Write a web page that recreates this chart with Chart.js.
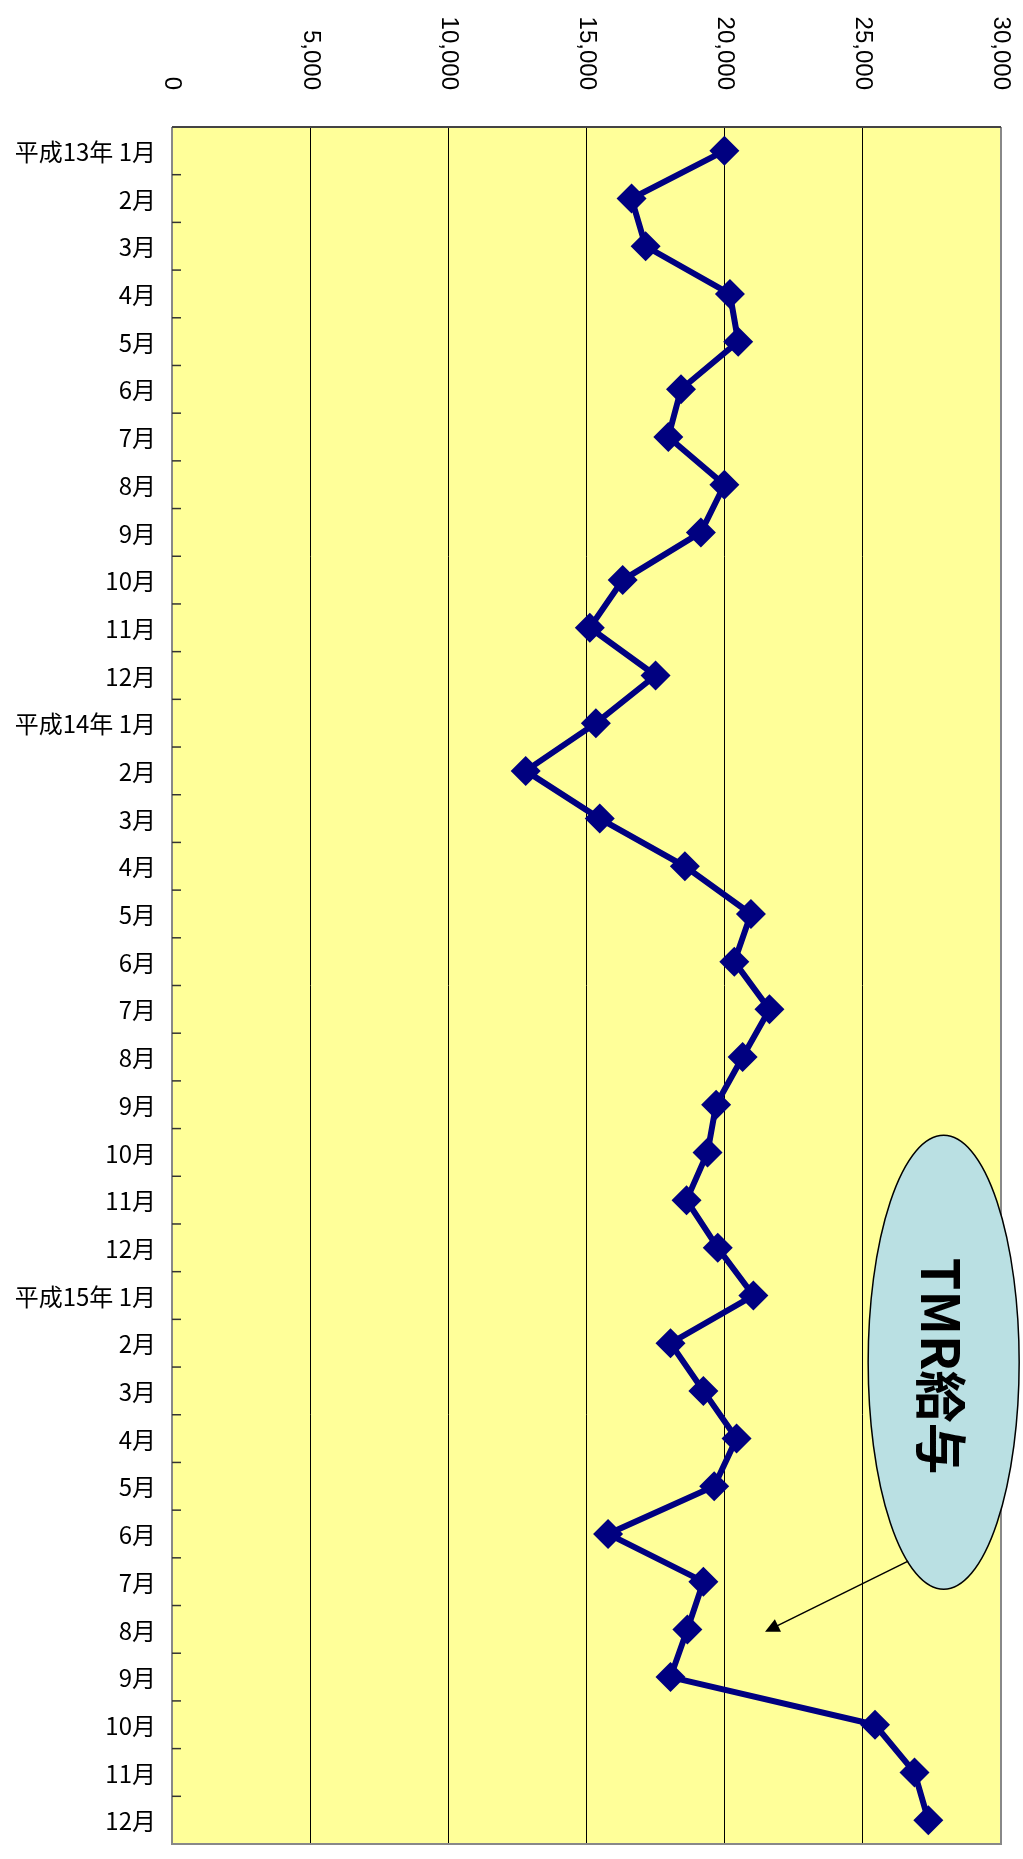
<!DOCTYPE html>
<html>
<head>
<meta charset="utf-8">
<script src="https://cdn.jsdelivr.net/npm/chart.js@4"></script>
<style>
  body { margin: 0; background: #fff; }
  #wrap { width: 1023px; height: 1859px; position: relative; }
</style>
</head>
<body>
<div id="wrap"><canvas id="tmrChart"></canvas></div>
<script>
// categories (months, 平成13年1月 - 平成15年12月)
const months = [
  '平成13年 1月', '2月', '3月', '4月', '5月', '6月', '7月', '8月', '9月', '10月', '11月', '12月',
  '平成14年 1月', '2月', '3月', '4月', '5月', '6月', '7月', '8月', '9月', '10月', '11月', '12月',
  '平成15年 1月', '2月', '3月', '4月', '5月', '6月', '7月', '8月', '9月', '10月', '11月', '12月'
];

// TMR給与
const tmrValues = [
  19990, 16630, 17140, 20190, 20490, 18420, 17960, 19990, 19140, 16310, 15120, 17500,
  15340, 12800, 15480, 18560, 20950, 20350, 21620, 20650, 19690, 19380, 18620, 19750,
  21040, 18040, 19230, 20430, 19620, 15780, 19230, 18650, 18040, 25440, 26870, 27370
];

// value axis
const axisMin = 0;
const axisMax = 30000;
const axisStep = 5000;

// callout: label, ellipse centre and arrow in data units
const calloutText = 'TMR給与';
const calloutCenter = { x: 27925, y: 25.4 };
const arrowFrom = { x: 26640, y: 29.57 };
const arrowTo = { x: 21460, y: 31.05 };

const plotDecor = {
  id: 'plotDecor',
  beforeDraw(chart) {
    const { ctx, chartArea: a } = chart;
    ctx.save();
    ctx.fillStyle = '#FFFF99';
    ctx.fillRect(a.left, a.top, a.right - a.left, a.bottom - a.top);
    ctx.restore();
  },
  beforeDatasetsDraw(chart) {
    const { ctx, chartArea: a } = chart;
    const ys = chart.scales.y;
    ctx.save();
    // frame
    ctx.lineWidth = 2;
    ctx.strokeStyle = '#888';
    ctx.beginPath();
    ctx.moveTo(a.left, a.top);
    ctx.lineTo(a.left, a.bottom);
    ctx.lineTo(a.right, a.bottom);
    ctx.lineTo(a.right, a.top);
    ctx.stroke();
    ctx.strokeStyle = '#444';
    ctx.beginPath();
    ctx.moveTo(a.left, a.top);
    ctx.lineTo(a.right, a.top);
    ctx.stroke();
    // small inward ticks between months
    const band = ys.getPixelForTick(1) - ys.getPixelForTick(0);
    ctx.lineWidth = 1.5;
    ctx.strokeStyle = '#333';
    for (let i = 1; i < months.length; i++) {
      const y = ys.getPixelForTick(i) - band / 2;
      ctx.beginPath();
      ctx.moveTo(a.left, y);
      ctx.lineTo(a.left + 9, y);
      ctx.stroke();
    }
    ctx.restore();
  },
  afterDraw(chart) {
    const { ctx, chartArea: a } = chart;
    const xs = chart.scales.x;
    const ys = chart.scales.y;
    ctx.save();
    // rotated value labels above the plot
    ctx.fillStyle = '#000';
    ctx.font = '24px "Liberation Sans", Arial, sans-serif';
    ctx.textAlign = 'right';
    ctx.textBaseline = 'middle';
    xs.ticks.forEach((t, i) => {
      const x = xs.getPixelForTick(i);
      ctx.save();
      ctx.translate(x, 90);
      ctx.rotate(Math.PI / 2);
      ctx.fillText(t.value.toLocaleString('en-US'), 0, 0);
      ctx.restore();
    });

    // month labels left of the plot
    ctx.font = '24px "Noto Sans CJK JP", sans-serif';
    ctx.textAlign = 'right';
    ctx.textBaseline = 'middle';
    months.forEach((m, i) => {
      ctx.fillText(m, a.left - 16, ys.getPixelForTick(i) + 1);
    });

    // callout ellipse
    const cx = xs.getPixelForValue(calloutCenter.x);
    const cy = ys.getPixelForValue(calloutCenter.y);
    ctx.beginPath();
    ctx.ellipse(cx, cy, 75.5, 227, 0, 0, Math.PI * 2);
    ctx.fillStyle = '#BAE0E3';
    ctx.fill();
    ctx.lineWidth = 1.5;
    ctx.strokeStyle = '#000';
    ctx.stroke();

    ctx.save();
    ctx.translate(cx - 3, cy + 4);
    ctx.rotate(Math.PI / 2);
    ctx.font = 'bold 52px "Noto Sans CJK JP", sans-serif';
    const w = ctx.measureText(calloutText).width;
    ctx.scale(217 / w, 1);
    ctx.fillStyle = '#000';
    ctx.textAlign = 'center';
    ctx.textBaseline = 'middle';
    ctx.fillText(calloutText, 0, 0);
    ctx.restore();

    // arrow
    const x1 = xs.getPixelForValue(arrowFrom.x), y1 = ys.getPixelForValue(arrowFrom.y);
    const x2 = xs.getPixelForValue(arrowTo.x), y2 = ys.getPixelForValue(arrowTo.y);
    const ang = Math.atan2(y2 - y1, x2 - x1);
    ctx.lineWidth = 1.5;
    ctx.beginPath();
    ctx.moveTo(x1, y1);
    ctx.lineTo(x2 - 10 * Math.cos(ang), y2 - 10 * Math.sin(ang));
    ctx.stroke();
    ctx.beginPath();
    ctx.moveTo(x2, y2);
    ctx.lineTo(x2 - 16 * Math.cos(ang - 0.45), y2 - 16 * Math.sin(ang - 0.45));
    ctx.lineTo(x2 - 16 * Math.cos(ang + 0.45), y2 - 16 * Math.sin(ang + 0.45));
    ctx.closePath();
    ctx.fillStyle = '#000';
    ctx.fill();
    ctx.restore();
  }
};

const ctx = document.getElementById('tmrChart').getContext('2d');
new Chart(ctx, {
  type: 'line',
  data: {
    labels: months,
    datasets: [{
      label: 'TMR給与',
      data: tmrValues,
      borderColor: '#000080',
      borderWidth: 6,
      pointStyle: 'rectRot',
      pointRadius: 15,
      pointBackgroundColor: '#000080',
      pointBorderWidth: 0,
      tension: 0
    }]
  },
  options: {
    indexAxis: 'y',
    responsive: true,
    maintainAspectRatio: false,
    animation: false,
    layout: { padding: { top: 0, left: 0, right: 22, bottom: 2 } },
    plugins: { legend: { display: false }, tooltip: { enabled: false } },
    scales: {
      x: {
        position: 'top',
        min: axisMin,
        max: axisMax,
        ticks: { stepSize: axisStep, display: false },
        grid: { color: '#000', lineWidth: 1, drawTicks: false },
        border: { display: false },
        afterFit: s => { s.height = 127; }
      },
      y: {
        offset: true,
        grid: { display: false },
        border: { display: false },
        ticks: { display: false },
        afterFit: s => { s.width = 172; }
      }
    }
  },
  plugins: [plotDecor]
});
</script>
</body>
</html>
